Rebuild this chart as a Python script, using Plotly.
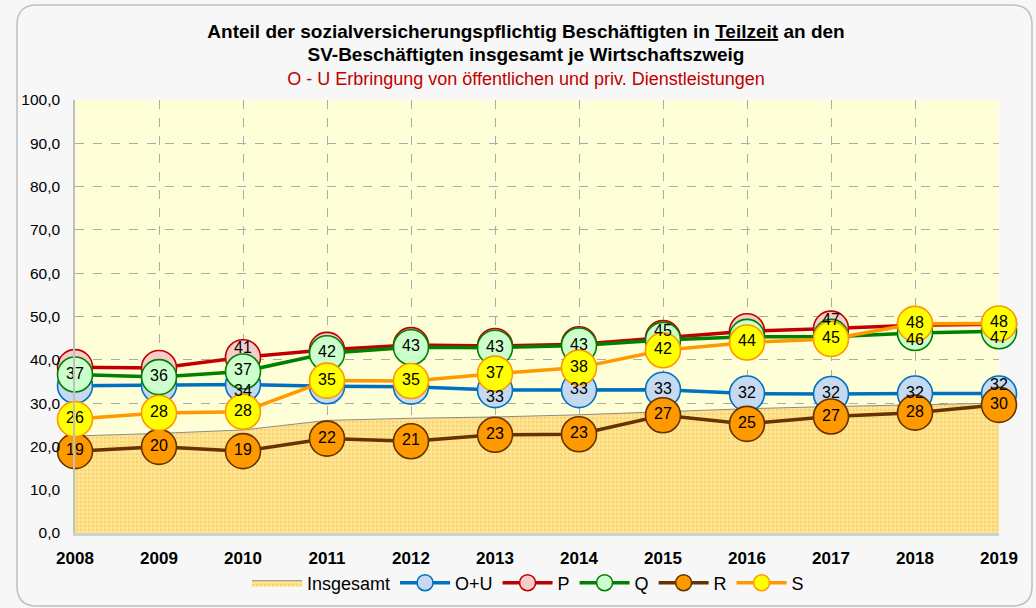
import plotly.graph_objects as go

years = [2008, 2009, 2010, 2011, 2012, 2013, 2014, 2015, 2016, 2017, 2018, 2019]
insgesamt = [22.4, 23.0, 23.8, 26.0, 26.5, 26.8, 27.3, 28.0, 28.7, 29.2, 29.6, 30.0]
o_u = [34.0, 34.1, 34.3, 33.9, 33.8, 33.0, 33.0, 33.1, 32.2, 32.1, 32.2, 32.2]
p = [38.3, 38.1, 40.6, 42.3, 43.4, 43.2, 43.6, 45.0, 46.6, 47.2, 48.0, 48.2]
q = [36.6, 36.0, 37.3, 41.5, 42.9, 42.8, 43.3, 44.6, 45.3, 45.3, 46.2, 46.6]
r = [18.9, 19.9, 18.9, 21.8, 21.2, 22.7, 22.8, 27.2, 25.2, 26.9, 27.8, 29.6]
s = [26.3, 27.7, 28.0, 35.2, 35.1, 36.8, 38.2, 42.2, 44.0, 44.8, 48.3, 48.4]
y_ticks = [0, 10, 20, 30, 40, 50, 60, 70, 80, 90, 100]

MC, TC, BC = "middle center", "top center", "bottom center"
# name, values, line colour, marker fill, marker border, label shown?, label position
series = [
    ("O+U", o_u, "#0070C0", "#C5D9F1", "#0070C0",
     [0, 0, 1, 0, 0, 1, 1, 1, 1, 1, 1, 1],
     [MC, MC, BC, MC, MC, BC, MC, MC, MC, MC, MC, TC]),
    ("P", p, "#C00000", "#F9CCCC", "#C00000",
     [0, 0, 1, 0, 0, 0, 0, 0, 0, 1, 0, 0],
     [MC, MC, TC, MC, MC, MC, MC, MC, MC, TC, MC, MC]),
    ("Q", q, "#008000", "#CCFFCC", "#008000",
     [1, 1, 1, 1, 1, 1, 1, 1, 0, 0, 1, 1],
     [MC, MC, MC, MC, MC, MC, MC, TC, MC, MC, BC, BC]),
    ("R", r, "#663300", "#FF9900", "#663300",
     [1] * 12, [MC] * 12),
    ("S", s, "#FF9900", "#FFFF00", "#FF9900",
     [1] * 12, [MC] * 12),
]

FONT = "Liberation Sans, Arial, sans-serif"
fig = go.Figure()

fig.add_trace(go.Scatter(
    x=years, y=insgesamt, name="Insgesamt", mode="lines",
    line=dict(color="#8C8C8C", width=1),
    fill="tozeroy", fillcolor="#FFE699",
    fillpattern=dict(shape=".", bgcolor="#FFE593", fgcolor="#EFC04A",
                     size=4, solidity=0.35),
    hoverinfo="skip",
))

for name, vals, lc, fc, bc, show, tpos in series:
    fig.add_trace(go.Scatter(
        x=years, y=vals, name=name, mode="lines+markers",
        line=dict(color=lc, width=3.5),
        marker=dict(size=35, color=fc, line=dict(color=bc, width=1.6)),
        cliponaxis=False,
    ))

# data labels drawn on top of all markers
for name, vals, lc, fc, bc, show, tpos in series:
    fig.add_trace(go.Scatter(
        x=years, y=vals, mode="text", showlegend=False,
        text=[f"{v:.0f}" if sh else "" for v, sh in zip(vals, show)],
        textposition=tpos,
        textfont=dict(family=FONT, size=16, color="#000000"),
        cliponaxis=False, hoverinfo="skip",
    ))

# rounded border around the chart (paper coordinates relative to plot area)
L, R_, T, B = 75, 999, 100, 533
W, H = R_ - L, B - T
def px(xp): return (xp - L) / W
def py(yp): return (B - yp) / H
x0, x1, y0, y1, rad = 17, 1032, 5, 606, 20
path = (f"M {px(x0+rad)},{py(y0)} L {px(x1-rad)},{py(y0)} "
        f"Q {px(x1)},{py(y0)} {px(x1)},{py(y0+rad)} "
        f"L {px(x1)},{py(y1-rad)} Q {px(x1)},{py(y1)} {px(x1-rad)},{py(y1)} "
        f"L {px(x0+rad)},{py(y1)} Q {px(x0)},{py(y1)} {px(x0)},{py(y1-rad)} "
        f"L {px(x0)},{py(y0+rad)} Q {px(x0)},{py(y0)} {px(x0+rad)},{py(y0)} Z")

fig.update_layout(
    width=1036, height=608,
    margin=dict(l=L, r=1036 - R_, t=T, b=608 - B, autoexpand=False),
    paper_bgcolor="#F7F7F7", plot_bgcolor="#FFFFD7",
    separators=",.",
    font=dict(family=FONT, size=14, color="#000000"),
    title=dict(
        text=("<span style='font-size:19px'><b>Anteil der sozialversicherungspflichtig Beschäftigten in <u>Teilzeit</u> an den</b></span><br>"
              "<span style='font-size:19px'><b>SV-Beschäftigten insgesamt je Wirtschaftszweig</b></span><br>"
              "<span style='color:#C00000'>O - U Erbringung von öffentlichen und priv. Dienstleistungen</span>"),
        x=526 / 1036, xref="container", xanchor="center",
        y=1 - 38 / 608, yref="container", yanchor="top",
        font=dict(size=18, family=FONT),
    ),
    xaxis=dict(
        range=[2008, 2019], tickmode="array", tickvals=years,
        ticktext=[f"<b>{y}</b>" for y in years],
        tickfont=dict(size=17), showgrid=True, gridcolor="#ABABAB",
        griddash="dash", gridwidth=1, showline=True, linecolor="#D0D0D0",
        linewidth=3, zeroline=False, ticks="", ticklabelstandoff=8,
        automargin=False,
    ),
    yaxis=dict(
        range=[0, 100], tickvals=y_ticks, tickformat=".1f",
        tickfont=dict(size=15.5), showgrid=True, gridcolor="#ABABAB",
        griddash="dash", gridwidth=1, showline=True, linecolor="#BFBFBF",
        linewidth=1.5, zeroline=False, ticks="", ticklabelstandoff=10,
        automargin=False,
    ),
    legend=dict(
        orientation="h", x=(528 - L) / W, xanchor="center",
        y=-50 / H, yanchor="middle", bgcolor="rgba(0,0,0,0)",
        font=dict(size=18), itemwidth=50, tracegroupgap=0,
    ),
    shapes=[dict(type="path", xref="paper", yref="paper", path=path,
                 line=dict(color="#BFBFBF", width=1.5), layer="below")],
    showlegend=True,
)

fig.write_html("out.html", config={"displayModeBar": False},
               post_script="document.body.style.margin='0px';")
